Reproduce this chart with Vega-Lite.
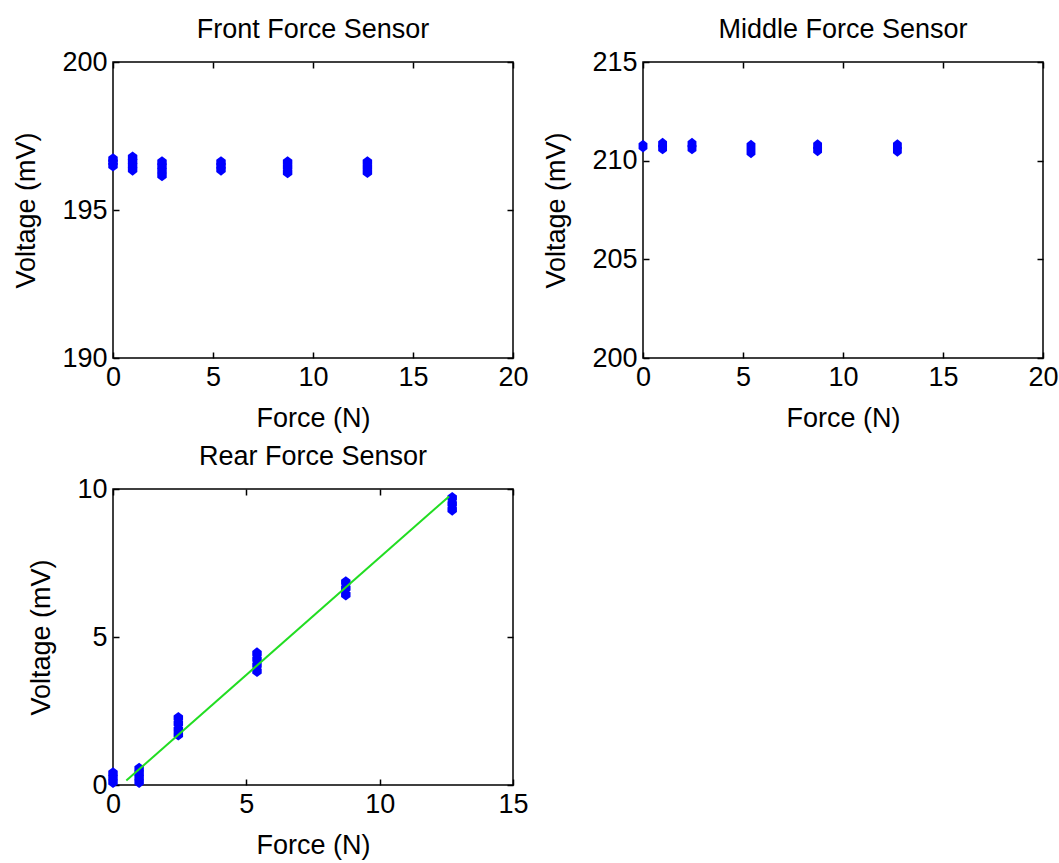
{
  "$schema": "https://vega.github.io/schema/vega-lite/v6.json",
  "background": "white",
  "padding": {"left": 12, "top": 15, "right": 5, "bottom": 5},
  "bounds": "flush",
  "columns": 2,
  "spacing": {"row": 131, "column": 130},
  "datasets": {
    "front": [
      {"force": 0, "voltage": 196.72}, {"force": 0, "voltage": 196.62}, {"force": 0, "voltage": 196.5},
      {"force": 0.98, "voltage": 196.78}, {"force": 0.98, "voltage": 196.64}, {"force": 0.98, "voltage": 196.5}, {"force": 0.98, "voltage": 196.36},
      {"force": 2.45, "voltage": 196.62}, {"force": 2.45, "voltage": 196.48}, {"force": 2.45, "voltage": 196.33}, {"force": 2.45, "voltage": 196.17},
      {"force": 5.4, "voltage": 196.62}, {"force": 5.4, "voltage": 196.49}, {"force": 5.4, "voltage": 196.36},
      {"force": 8.73, "voltage": 196.62}, {"force": 8.73, "voltage": 196.45}, {"force": 8.73, "voltage": 196.27},
      {"force": 12.72, "voltage": 196.62}, {"force": 12.72, "voltage": 196.45}, {"force": 12.72, "voltage": 196.28}
    ],
    "middle": [
      {"force": 0, "voltage": 210.74},
      {"force": 0.98, "voltage": 210.84}, {"force": 0.98, "voltage": 210.64},
      {"force": 2.45, "voltage": 210.84}, {"force": 2.45, "voltage": 210.64},
      {"force": 5.4, "voltage": 210.74}, {"force": 5.4, "voltage": 210.44},
      {"force": 8.73, "voltage": 210.76}, {"force": 8.73, "voltage": 210.54},
      {"force": 12.72, "voltage": 210.76}, {"force": 12.72, "voltage": 210.52}
    ],
    "rear": [
      {"force": 0, "voltage": 0.4}, {"force": 0, "voltage": 0.25}, {"force": 0, "voltage": 0.1},
      {"force": 0.98, "voltage": 0.55}, {"force": 0.98, "voltage": 0.4}, {"force": 0.98, "voltage": 0.25}, {"force": 0.98, "voltage": 0.1},
      {"force": 2.45, "voltage": 2.27}, {"force": 2.45, "voltage": 2.08}, {"force": 2.45, "voltage": 1.88}, {"force": 2.45, "voltage": 1.7},
      {"force": 5.4, "voltage": 4.45}, {"force": 5.4, "voltage": 4.25}, {"force": 5.4, "voltage": 4.05}, {"force": 5.4, "voltage": 3.85},
      {"force": 8.73, "voltage": 6.85}, {"force": 8.73, "voltage": 6.65}, {"force": 8.73, "voltage": 6.43},
      {"force": 12.72, "voltage": 9.7}, {"force": 12.72, "voltage": 9.5}, {"force": 12.72, "voltage": 9.3}
    ],
    "fit": [
      {"force": 0.5, "voltage": 0.15},
      {"force": 12.6, "voltage": 9.75}
    ]
  },
  "concat": [
    {
      "width": 400, "height": 296,
      "title": {"text": "Front Force Sensor"},
      "data": {"name": "front"},
      "layer": [
        {
          "mark": {"type": "point", "filled": true, "opacity": 1, "color": "#0000ff", "size": 140, "shape": "M0,-1L0.8,-0.4L0.8,0.4L0,1L-0.8,0.4L-0.8,-0.4Z"},
          "encoding": {
            "x": {"field": "force", "type": "quantitative", "scale": {"domain": [0, 20], "nice": false, "zero": false}, "axis": {"values": [0, 5, 10, 15, 20], "title": "Force (N)"}},
            "y": {"field": "voltage", "type": "quantitative", "scale": {"domain": [190, 200], "nice": false, "zero": false}, "axis": {"values": [190, 195, 200], "title": "Voltage (mV)"}}
          }
        },
        {
          "mark": {"type": "point", "opacity": 0},
          "encoding": {
            "x": {"field": "force", "type": "quantitative", "scale": {"domain": [0, 20], "nice": false, "zero": false}, "axis": {"orient": "top", "values": [0, 5, 10, 15, 20], "labels": false, "title": null}},
            "y": {"field": "voltage", "type": "quantitative", "scale": {"domain": [190, 200], "nice": false, "zero": false}, "axis": {"orient": "right", "values": [190, 195, 200], "labels": false, "title": null}}
          }
        }
      ],
      "resolve": {"axis": {"x": "independent", "y": "independent"}}
    },
    {
      "width": 400, "height": 296,
      "title": {"text": "Middle Force Sensor"},
      "data": {"name": "middle"},
      "layer": [
        {
          "mark": {"type": "point", "filled": true, "opacity": 1, "color": "#0000ff", "size": 160, "shape": "M0,-1L0.7,-0.45L0.7,0.45L0,1L-0.7,0.45L-0.7,-0.45Z"},
          "encoding": {
            "x": {"field": "force", "type": "quantitative", "scale": {"domain": [0, 20], "nice": false, "zero": false}, "axis": {"values": [0, 5, 10, 15, 20], "title": "Force (N)"}},
            "y": {"field": "voltage", "type": "quantitative", "scale": {"domain": [200, 215], "nice": false, "zero": false}, "axis": {"values": [200, 205, 210, 215], "title": "Voltage (mV)"}}
          }
        },
        {
          "mark": {"type": "point", "opacity": 0},
          "encoding": {
            "x": {"field": "force", "type": "quantitative", "scale": {"domain": [0, 20], "nice": false, "zero": false}, "axis": {"orient": "top", "values": [0, 5, 10, 15, 20], "labels": false, "title": null}},
            "y": {"field": "voltage", "type": "quantitative", "scale": {"domain": [200, 215], "nice": false, "zero": false}, "axis": {"orient": "right", "values": [200, 205, 210, 215], "labels": false, "title": null}}
          }
        }
      ],
      "resolve": {"axis": {"x": "independent", "y": "independent"}}
    },
    {
      "width": 400, "height": 296,
      "title": {"text": "Rear Force Sensor"},
      "layer": [
        {
          "data": {"name": "rear"},
          "mark": {"type": "point", "filled": true, "opacity": 1, "color": "#0000ff", "size": 140, "shape": "M0,-1L0.8,-0.4L0.8,0.4L0,1L-0.8,0.4L-0.8,-0.4Z"},
          "encoding": {
            "x": {"field": "force", "type": "quantitative", "scale": {"domain": [0, 15], "nice": false, "zero": false}, "axis": {"values": [0, 5, 10, 15], "title": "Force (N)"}},
            "y": {"field": "voltage", "type": "quantitative", "scale": {"domain": [0, 10], "nice": false, "zero": false}, "axis": {"values": [0, 5, 10], "title": "Voltage (mV)"}}
          }
        },
        {
          "data": {"name": "fit"},
          "mark": {"type": "line", "color": "#22dd22", "strokeWidth": 2},
          "encoding": {
            "x": {"field": "force", "type": "quantitative", "scale": {"domain": [0, 15], "nice": false, "zero": false}, "axis": {"orient": "top", "values": [0, 5, 10, 15], "labels": false, "title": null}},
            "y": {"field": "voltage", "type": "quantitative", "scale": {"domain": [0, 10], "nice": false, "zero": false}, "axis": {"orient": "right", "values": [0, 5, 10], "labels": false, "title": null}}
          }
        }
      ],
      "resolve": {"axis": {"x": "independent", "y": "independent"}}
    }
  ],
  "config": {
    "font": "Liberation Sans",
    "view": {"stroke": "black", "strokeWidth": 1.5},
    "axis": {
      "domain": false,
      "grid": false,
      "ticks": true,
      "tickColor": "black",
      "tickSize": -6,
      "tickWidth": 1.5,
      "labelPadding": 12,
      "labelFlush": false,
      "labelOverlap": false,
      "labelFont": "Liberation Sans",
      "labelFontSize": 27,
      "labelColor": "black",
      "titleFont": "Liberation Sans",
      "titleFontSize": 27,
      "titleFontWeight": "normal",
      "titleColor": "black"
    },
    "axisX": {"titlePadding": 15},
    "axisY": {"titlePadding": 21},
    "title": {"font": "Liberation Sans", "fontSize": 27, "fontWeight": "normal", "color": "black", "offset": 4}
  }
}
